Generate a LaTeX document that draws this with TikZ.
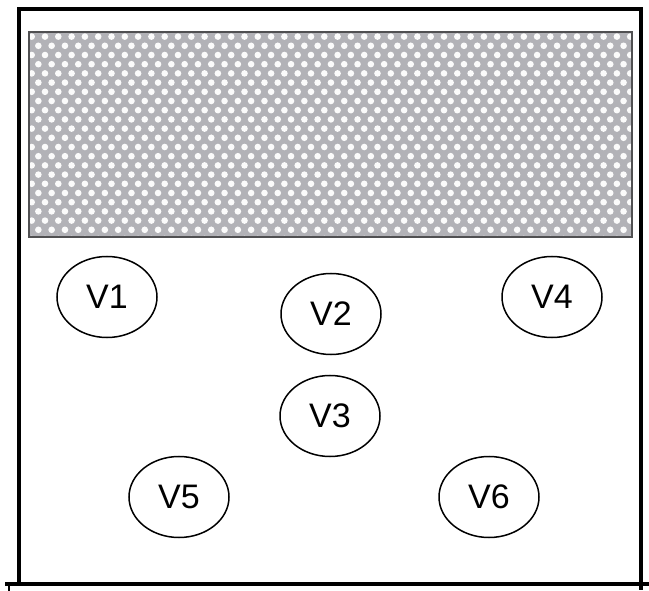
\documentclass[tikz,border=0pt]{standalone}
\usepackage{fontspec}
\setmainfont{Liberation Sans}
\usetikzlibrary{shapes.geometric}
\definecolor{patgray}{RGB}{178,178,183}
\definecolor{rimgray}{RGB}{80,80,82}
\begin{document}
\begin{tikzpicture}[x=1pt,y=-1pt,
  vertex/.style={draw, line width=1.5pt, ellipse, minimum width=100pt, minimum height=81pt, inner sep=0pt, font=\fontsize{34}{34}\selectfont},
  frame/.style={line width=3.8pt, line cap=rect},
  dotfill/.style={fill=white!97!gray}]
\useasboundingbox (0,0) rectangle (649,591);
% hatched panel
\fill[patgray] (29,32) rectangle (632,237);
\begin{scope}
\clip (29,32) rectangle (632,237);
\foreach \j in {0,...,22} {
  \pgfmathsetmacro\yy{36.6+9.2*\j}
  \pgfmathsetmacro\xs{mod(\j,2)==0 ? 31.7 : 25.05}
  \foreach \i in {0,...,46} {
    \fill[dotfill] (\xs+13.3*\i, \yy) circle (3.3pt);
  }
}
\end{scope}
\draw[line width=1.4pt, rimgray] (29,32) rectangle (632,237);
% frame
\draw[frame] (19,584) -- (19,9) -- (641,9) -- (641,588);
\draw[line width=3.8pt] (5,584) -- (649,584);
\draw[line width=2pt] (9,584) -- (9,591);
% vertices
\node[vertex] (v1) at (107,297) {V1};
\node[vertex] (v2) at (331,314) {V2};
\node[vertex] (v4) at (552,297) {V4};
\node[vertex] (v3) at (330,416) {V3};
\node[vertex] (v5) at (179,497) {V5};
\node[vertex] (v6) at (489,497) {V6};
\end{tikzpicture}
\end{document}
